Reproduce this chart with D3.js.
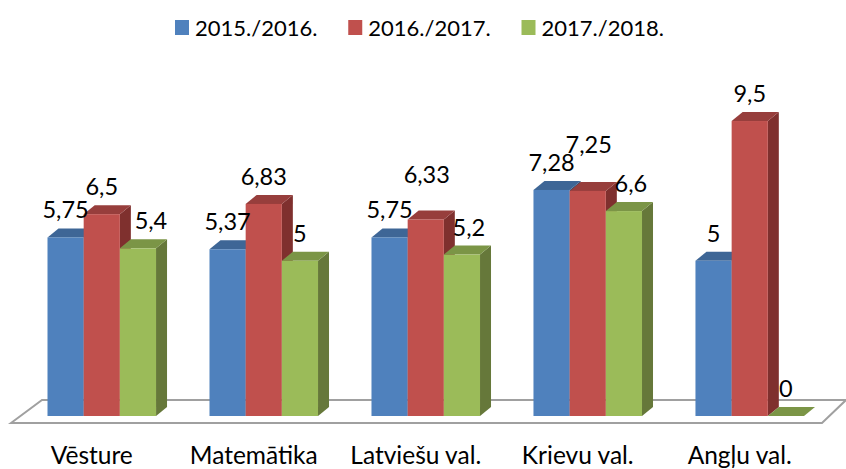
<!DOCTYPE html>
<html>
<head>
<meta charset="utf-8">
<script src="https://cdn.jsdelivr.net/npm/d3@7"></script>
<style>
html, body { margin: 0; padding: 0; background: #fff; }
text { font-family: Lato, "Open Sans", sans-serif; fill: #000; }
</style>
</head>
<body>
<svg id="chart" width="846" height="469"></svg>
<script>
var categories = ["Vēsture", "Matemātika", "Latviešu val.", "Krievu val.", "Angļu val."];
var seriesNames = ["2015./2016.", "2016./2017.", "2017./2018."];
var values2015 = [5.75, 5.37, 5.75, 7.28, 5];
var values2016 = [6.5, 6.83, 6.33, 7.25, 9.5];
var values2017 = [5.4, 5, 5.2, 6.6, 0];

var FRONT_COLORS = ["#4f81bd", "#c0504d", "#9bbb59"];
var TOP_COLORS = ["#3e6696", "#973e3c", "#7b9546"];
var SIDE_COLORS = ["#2f4d71", "#7f302e", "#66783a"];
var DEPTH_X = 11;
var DEPTH_Y = 9;
var BASE_Y = 416;

// labels the original had moved by hand: [series, category, dx, dy]
var LABEL_NUDGE = [
    [2, 0, 13, 0],
    [1, 2, 1, -17],
    [2, 2, 7, 0],
    [1, 3, 1, -19],
    [2, 3, 7, 0]
];

function main() {
    var svg = d3.select("#chart");
    var allValues = [values2015, values2016, values2017];

    var x0 = d3.scaleBand().domain(categories).range([47.5, 804]).paddingInner(0.33);
    var x1 = d3.scaleBand().domain(d3.range(3)).range([0, x0.bandwidth()]);
    var y = d3.scaleLinear().domain([0, 10]).range([BASE_Y, 105.5]);

    drawFloor(svg);
    drawBars(svg, allValues, x0, x1, y);
    drawLabels(svg, allValues, x0, x1, y);
    drawAxis(svg, x0);
    drawLegend(svg);
}

function drawFloor(svg) {
    svg.append("path")
        .attr("d", "M11,423 L42,400 L846,400 L822,423 Z")
        .attr("fill", "#fff")
        .attr("stroke", "#a0a0a0")
        .attr("stroke-width", 2);
}

function drawBars(svg, allValues, x0, x1, y) {
    var w = x1.bandwidth();
    categories.forEach(function(cat, c) {
        allValues.forEach(function(vals, s) {
            var left = x0(cat) + x1(s);
            var right = left + w;
            var top = y(vals[c]);
            var g = svg.append("g").attr("class", "bar");
            g.append("path")
                .attr("d", poly([[right, top], [right + DEPTH_X, top - DEPTH_Y],
                                 [right + DEPTH_X, BASE_Y - DEPTH_Y], [right, BASE_Y]]))
                .attr("fill", SIDE_COLORS[s]);
            g.append("path")
                .attr("d", poly([[left, top], [left + DEPTH_X, top - DEPTH_Y],
                                 [right + DEPTH_X, top - DEPTH_Y], [right, top]]))
                .attr("fill", TOP_COLORS[s]);
            g.append("rect")
                .attr("x", left)
                .attr("y", top)
                .attr("width", w)
                .attr("height", BASE_Y - top)
                .attr("fill", FRONT_COLORS[s]);
        });
    });
}

function poly(pts) {
    return "M" + pts.join("L") + "Z";
}

function drawLabels(svg, allValues, x0, x1, y) {
    allValues.forEach(function(vals, s) {
        vals.forEach(function(v, c) {
            var nudge = LABEL_NUDGE.find(function(n) { return n[0] == s && n[1] == c; }) || [s, c, 0, 0];
            svg.append("text")
                .attr("x", x0(categories[c]) + x1(s) + x1.bandwidth() / 2 + nudge[2])
                .attr("y", y(v) - 19 + nudge[3])
                .attr("text-anchor", "middle")
                .attr("font-size", 23.5)
                .text(String(v).replace(".", ","));
        });
    });
}

function drawAxis(svg, x0) {
    var axis = svg.append("g")
        .attr("transform", "translate(-10,447)")
        .call(d3.axisBottom(x0).tickSize(0).tickPadding(0));
    axis.select(".domain").remove();
    axis.selectAll("text")
        .style("font-family", "Lato")
        .attr("font-size", 24.5)
        .attr("fill", "#000");
}

function drawLegend(svg) {
    var legendX = d3.scalePoint().domain(seriesNames).range([175, 521.5]);
    seriesNames.forEach(function(name, i) {
        svg.append("rect")
            .attr("x", legendX(name))
            .attr("y", 20)
            .attr("width", 14)
            .attr("height", 15)
            .attr("fill", FRONT_COLORS[i]);
        svg.append("text")
            .attr("x", legendX(name) + 20)
            .attr("y", 36)
            .attr("font-size", 22)
            .text(name);
    });
}

main();
</script>
</body>
</html>
